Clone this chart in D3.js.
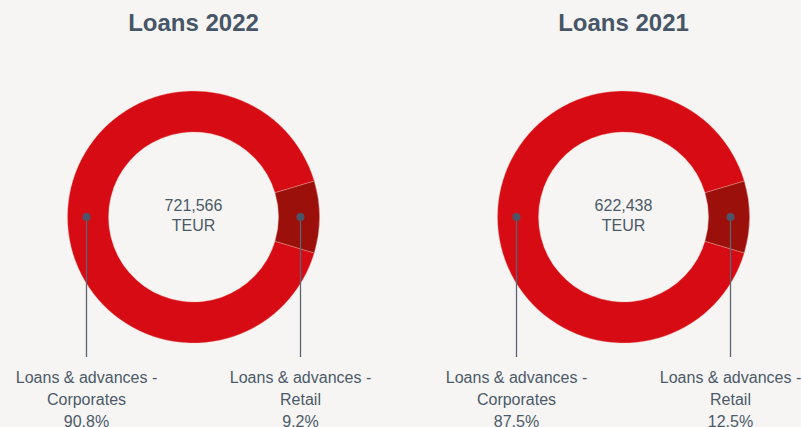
<!DOCTYPE html>
<html><head><meta charset="utf-8">
<script src="https://cdn.jsdelivr.net/npm/d3@7"></script>
<style>
html,body{margin:0;padding:0;background:#f7f5f3;}
svg{display:block;font-family:"Liberation Sans",Arial,Helvetica,sans-serif;}
</style></head><body>
<svg id="c" width="801" height="427"></svg>
<script>
// Data
const titles = ["Loans 2022", "Loans 2021"];
const totals = ["721,566", "622,438"];
const unit = "TEUR";
const categories = ["Loans & advances - Corporates", "Loans & advances - Retail"];
const labelLines = [["Loans & advances -", "Corporates"], ["Loans & advances -", "Retail"]];
const shares2022 = [90.8, 9.2];
const shares2021 = [87.5, 12.5];
// slice sizes as drawn in the reference (both donuts show the same split)
const drawn2022 = [90.8, 9.2];
const drawn2021 = [90.8, 9.2];
const colors = ["#d60b13", "#9b100b"];

const charts = [
  {title: titles[0], total: totals[0], shares: shares2022, drawn: drawn2022, cx: 193.5},
  {title: titles[1], total: totals[1], shares: shares2021, drawn: drawn2021, cx: 623.5}
];

const svg = d3.select("#c");
const cy = 217, rOuter = 126, rInner = 85, rDot = 107;
const textCol = "#4b5a69";

charts.forEach(ch => {
  const g = svg.append("g").attr("transform", `translate(${ch.cx},${cy})`);
  const corpAngle = ch.drawn[0] / d3.sum(ch.drawn) * 2 * Math.PI;
  const start = 1.5 * Math.PI - corpAngle / 2;
  const pie = d3.pie().sort(null).value(d => d.v)
    .startAngle(start).endAngle(start + 2 * Math.PI);
  const data = ch.drawn.map((v, i) => ({v, i, share: ch.shares[i]}));
  const arcs = pie(data);
  const arc = d3.arc().innerRadius(rInner).outerRadius(rOuter);
  g.selectAll("path").data(arcs).join("path")
    .attr("d", arc).attr("fill", d => colors[d.data.i])
    .attr("stroke", "#f7b0a8").attr("stroke-width", 0.6).attr("stroke-opacity", 0.6);

  svg.append("text").attr("x", ch.cx).attr("y", 31).attr("text-anchor", "middle")
    .attr("font-size", 24).attr("font-weight", "bold").attr("fill", "#465667").text(ch.title);

  g.append("text").attr("x", 0).attr("y", -6).attr("text-anchor", "middle")
    .attr("font-size", 16).attr("fill", textCol).text(ch.total);
  g.append("text").attr("x", 0).attr("y", 14).attr("text-anchor", "middle")
    .attr("font-size", 16).attr("fill", textCol).text(unit);

  arcs.forEach(a => {
    const mid = (a.startAngle + a.endAngle) / 2;
    const x = rDot * Math.sin(mid);
    const y = -rDot * Math.cos(mid);
    g.append("line").attr("x1", x).attr("y1", y).attr("x2", x).attr("y2", 357 - cy)
      .attr("stroke", "#5b6672").attr("stroke-width", 1.3);
    g.append("circle").attr("cx", x).attr("cy", y).attr("r", 4).attr("fill", "#4a5667");
    const lines = labelLines[a.data.i].concat([d3.format(".1f")(a.data.share) + "%"]);
    lines.forEach((t, k) => {
      g.append("text").attr("x", x).attr("y", 383 - cy + k * 22).attr("text-anchor", "middle")
        .attr("font-size", 16).attr("fill", textCol).text(t);
    });
  });
});
</script>
</body></html>
